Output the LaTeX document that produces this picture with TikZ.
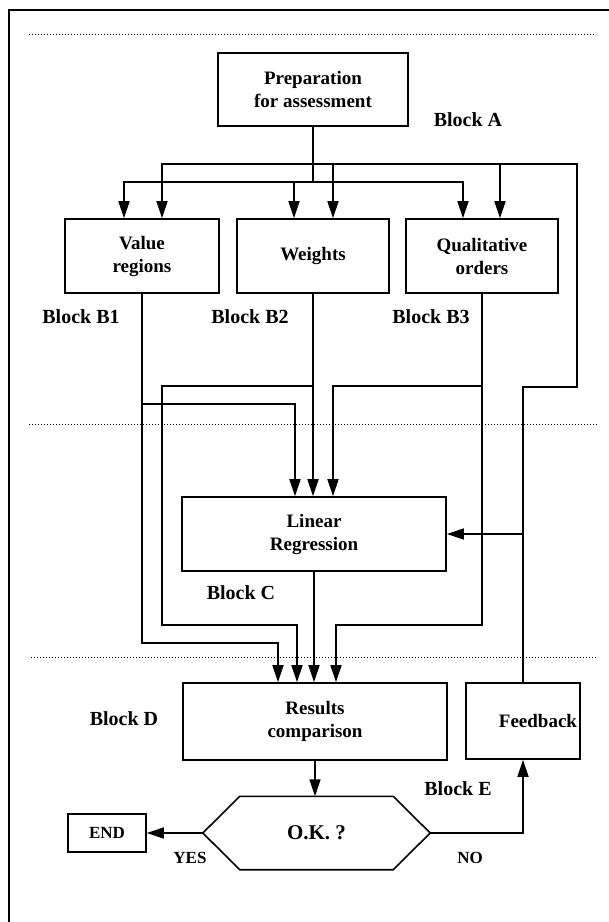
\documentclass[tikz,border=0pt]{standalone}
\usepackage{fontspec}
\setmainfont{Liberation Serif}
\usetikzlibrary{arrows.meta}
\tikzset{
  box/.style={draw, line width=1.6pt, inner sep=0pt, align=center,
    font=\fontsize{19}{23}\selectfont\bfseries},
  flow/.style={line width=1.6pt, -{Triangle[length=17pt,width=11pt]}},
  lbl/.style={inner sep=0pt, font=\fontsize{20}{24}\selectfont\bfseries},
  tag/.style={inner sep=0pt, font=\fontsize{17}{20}\selectfont\bfseries},
  sep/.style={dotted, line width=1pt}
}
\begin{document}
\begin{tikzpicture}[x=1pt, y={(0pt,-1pt)}]
    \useasboundingbox (0,0) rectangle (609,922);
    % frame and separators
    \draw[line width=2.8pt] (9,922) -- (9,10) -- (609,10);
    \draw[sep] (29,34) -- (596,34);
    \draw[sep] (29,424) -- (598,424);
    \draw[sep] (31,657) -- (598,657);
    % blocks
    \node[box, minimum width=190pt, minimum height=73pt] (prep) at (313,89.5) {Preparation\\for assessment};
    \node[box, minimum width=154pt, minimum height=74pt] (value) at (142,256) {Value\\regions};
    \node[box, minimum width=152pt, minimum height=74pt] (weights) at (313,256) {Weights};
    \node[box, minimum width=152pt, minimum height=74pt] (qual) at (482,256) {Qualitative\\orders};
    \node[box, minimum width=264pt, minimum height=74pt] (linreg) at (314,534) {Linear\\Regression};
    \node[box, minimum width=264pt, minimum height=77pt] (results) at (315,721.5) {Results\\comparison};
    \node[box, minimum width=114pt, minimum height=76pt, text width=108pt, align=right] (feedback) at (523,721) {Feedback};
    \node[box, minimum width=78pt, minimum height=38pt, font=\fontsize{17}{20}\selectfont\bfseries] (endbox) at (107,833) {END};
    \node[inner sep=0pt, minimum width=227pt, minimum height=73pt, font=\fontsize{21}{24}\selectfont\bfseries] (ok) at (316.5,833) {O.K. ?};
    \draw[line width=1.6pt] (ok.west) -- ([xshift=37pt]ok.north west) -- ([xshift=-37pt]ok.north east)
        -- (ok.east) -- ([xshift=-37pt]ok.south east) -- ([xshift=37pt]ok.south west) -- cycle;
    % block labels
    \node[lbl] (blockA) at (468,120) {Block A};
    \node[lbl] (blockB1) at (81,317) {Block B1};
    \node[lbl] (blockB2) at (250,317) {Block B2};
    \node[lbl] (blockB3) at (431,317) {Block B3};
    \node[lbl] (blockC) at (241,593) {Block C};
    \node[lbl] (blockD) at (124,719) {Block D};
    \node[lbl] (blockE) at (458,789) {Block E};
    \node[tag] (yes) at (190,858) {YES};
    \node[tag] (no) at (470,858) {NO};
    % preparation to the three B blocks
    \coordinate (la) at (124,182);
    \coordinate (lb) at (294,182);
    \coordinate (lc) at (463,182);
    \draw[flow] (prep.south) |- (la) -- (la |- value.north);
    \draw[flow] (lb) -- (lb |- weights.north);
    \draw[flow] (prep.south) |- (lc) -- (lc |- qual.north);
    % feedback loop back to the B blocks
    \coordinate (ua) at (162,164);
    \coordinate (ub) at (333,164);
    \coordinate (uc) at (500,164);
    \coordinate (fbturn) at (577,387);
    \coordinate (fbtop) at (577,164);
    \draw[flow] (feedback.north) |- (fbturn) -- (fbtop) -- (ua) -- (ua |- value.north);
    \draw[flow] (ub) -- (ub |- weights.north);
    \draw[flow] (uc) -- (uc |- qual.north);
    \draw[flow] (feedback.north |- linreg.east) -- (linreg.east);
    % B blocks to regression
    \coordinate (b1lr) at (295,404);
    \coordinate (b3lr) at (333,386);
    \draw[flow] (value.south) |- (b1lr) -- (b1lr |- linreg.north);
    \draw[flow] (weights.south) -- (weights.south |- linreg.north);
    \draw[flow] (qual.south) |- (b3lr) -- (b3lr |- linreg.north);
    % B blocks and regression to comparison
    \coordinate (b1res) at (278,643);
    \coordinate (b2a) at (162,386);
    \coordinate (b2res) at (297,625);
    \coordinate (b3res) at (336,625);
    \draw[flow] (value.south) |- (b1res) -- (b1res |- results.north);
    \draw[flow] (weights.south |- b2a) -- (b2a) |- (b2res) -- (b2res |- results.north);
    \draw[flow] (qual.south) |- (b3res) -- (b3res |- results.north);
    \draw[flow] (linreg.south) -- (linreg.south |- results.north);
    % decision
    \draw[flow] (results.south) -- (results.south |- ok.north);
    \draw[flow] (ok.west) -- (endbox.east);
    \draw[flow] (ok.east) -| (feedback.south);
\end{tikzpicture}
\end{document}
